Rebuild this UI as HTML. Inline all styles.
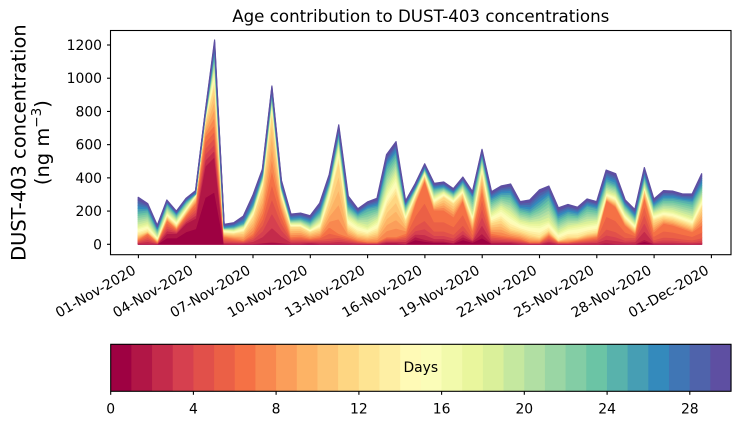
<!DOCTYPE html>
<html><head><meta charset="utf-8">
<style>
html,body{margin:0;padding:0;background:#fff;}
svg{display:block;}
text{font-family:"DejaVu Sans","Liberation Sans",sans-serif;fill:#000;}
</style></head>
<body>
<svg id="s" width="739" height="425" viewBox="0 0 739 425" xmlns="http://www.w3.org/2000/svg">
<rect x="0" y="0" width="739" height="425" fill="#fff"/>
<g id="stack"></g>
<g id="cbar"></g>
<rect x="110.5" y="30.5" width="620.5" height="224.2" fill="none" stroke="#000" stroke-width="1.1"/>
<rect x="110.7" y="344.3" width="620.3" height="47" fill="none" stroke="#000" stroke-width="1.1"/>
<g stroke="#000" stroke-width="1.1">
<line x1="107" y1="244.3" x2="110.5" y2="244.3"/>
<line x1="107" y1="211.08" x2="110.5" y2="211.08"/>
<line x1="107" y1="177.87" x2="110.5" y2="177.87"/>
<line x1="107" y1="144.65" x2="110.5" y2="144.65"/>
<line x1="107" y1="111.44" x2="110.5" y2="111.44"/>
<line x1="107" y1="78.22" x2="110.5" y2="78.22"/>
<line x1="107" y1="45.0" x2="110.5" y2="45.0"/>
<line x1="138.4" y1="254.7" x2="138.4" y2="258.2"/>
<line x1="195.7" y1="254.7" x2="195.7" y2="258.2"/>
<line x1="253.0" y1="254.7" x2="253.0" y2="258.2"/>
<line x1="310.3" y1="254.7" x2="310.3" y2="258.2"/>
<line x1="367.6" y1="254.7" x2="367.6" y2="258.2"/>
<line x1="424.9" y1="254.7" x2="424.9" y2="258.2"/>
<line x1="482.2" y1="254.7" x2="482.2" y2="258.2"/>
<line x1="539.5" y1="254.7" x2="539.5" y2="258.2"/>
<line x1="596.8" y1="254.7" x2="596.8" y2="258.2"/>
<line x1="654.1" y1="254.7" x2="654.1" y2="258.2"/>
<line x1="711.4" y1="254.7" x2="711.4" y2="258.2"/>
<line x1="110.7" y1="391.3" x2="110.7" y2="394.8"/>
<line x1="193.4" y1="391.3" x2="193.4" y2="394.8"/>
<line x1="276.1" y1="391.3" x2="276.1" y2="394.8"/>
<line x1="358.9" y1="391.3" x2="358.9" y2="394.8"/>
<line x1="441.6" y1="391.3" x2="441.6" y2="394.8"/>
<line x1="524.3" y1="391.3" x2="524.3" y2="394.8"/>
<line x1="607.1" y1="391.3" x2="607.1" y2="394.8"/>
<line x1="689.8" y1="391.3" x2="689.8" y2="394.8"/>
</g>
<g font-size="13.9" text-anchor="end">
<text x="102" y="249.3">0</text>
<text x="102" y="216.1">200</text>
<text x="102" y="182.9">400</text>
<text x="102" y="149.6">600</text>
<text x="102" y="116.4">800</text>
<text x="102" y="83.2">1000</text>
<text x="102" y="50.0">1200</text>
</g>
<g font-size="13.9" text-anchor="end">
<text transform="translate(136.8,273) rotate(-30)">01-Nov-2020</text>
<text transform="translate(194.1,273) rotate(-30)">04-Nov-2020</text>
<text transform="translate(251.4,273) rotate(-30)">07-Nov-2020</text>
<text transform="translate(308.7,273) rotate(-30)">10-Nov-2020</text>
<text transform="translate(366.0,273) rotate(-30)">13-Nov-2020</text>
<text transform="translate(423.3,273) rotate(-30)">16-Nov-2020</text>
<text transform="translate(480.6,273) rotate(-30)">19-Nov-2020</text>
<text transform="translate(537.9,273) rotate(-30)">22-Nov-2020</text>
<text transform="translate(595.2,273) rotate(-30)">25-Nov-2020</text>
<text transform="translate(652.5,273) rotate(-30)">28-Nov-2020</text>
<text transform="translate(709.8,273) rotate(-30)">01-Dec-2020</text>
</g>
<g font-size="13.9" text-anchor="middle">
<text x="110.7" y="413.3">0</text>
<text x="193.4" y="413.3">4</text>
<text x="276.1" y="413.3">8</text>
<text x="358.9" y="413.3">12</text>
<text x="441.6" y="413.3">16</text>
<text x="524.3" y="413.3">20</text>
<text x="607.1" y="413.3">24</text>
<text x="689.8" y="413.3">28</text>
<text x="420.8" y="372">Days</text>
</g>
<text x="420.8" y="22.2" font-size="16.67" text-anchor="middle">Age contribution to DUST-403 concentrations</text>
<text transform="translate(25.5,142.6) rotate(-90)" font-size="19.44" text-anchor="middle">DUST-403 concentration</text>
<text transform="translate(49,142.6) rotate(-90)" font-size="19.44" text-anchor="middle">(ng m<tspan font-size="13.6" dy="-8">−3</tspan><tspan dy="8">)</tspan></text>
</svg>
<script>
(function(){
var NS="http://www.w3.org/2000/svg";
var anchors=[[158,1,66],[213,62,79],[244,109,67],[253,174,97],[254,224,139],[255,255,191],[230,245,152],[171,221,164],[102,194,165],[50,136,189],[94,79,162]];
function spec(t){var p=t*10;var i=Math.floor(p);if(i>=10)i=9;var f=p-i;var a=anchors[i],b=anchors[i+1];var r=[];for(var k=0;k<3;k++)r.push(Math.round(a[k]+(b[k]-a[k])*f));return 'rgb('+r.join(',')+')';}
var cols=[];for(var i=0;i<30;i++)cols.push(spec(i/29));
var data=[
[5,30,60,110,200,283],[5,66,80,127,207,245],[3,15,30,50,90,115],[66,146,170,197,245,267],
[66,96,115,145,185,200],[126,176,200,225,262,277],[157,247,285,300,312,323],[470,650,740,762,775,790],
[528,720,970,1080,1170,1230],[3,46,70,90,102,120],[3,36,66,86,106,130],[5,26,76,106,127,170],
[5,66,167,207,237,295],[10,187,347,387,418,452],[15,452,809,869,920,953],[10,207,287,327,347,385],
[5,46,106,127,150,182],[5,50,106,127,155,188],[10,36,76,96,135,172],[5,46,96,137,195,248],
[5,106,267,335,375,420,1],[5,66,508,608,670,719],[5,46,106,167,230,290],[3,26,66,127,180,214],
[3,16,56,106,215,255],[3,16,76,146,227,277],[10,46,227,327,470,540],[10,46,307,428,548,618],
[5,66,146,187,235,262],[46,247,287,317,340,365,1],[30,388,418,440,460,485,1],[20,207,247,287,335,367,1],
[20,207,287,317,345,375,1],[10,167,247,277,310,335,1],[46,267,307,337,375,405,1],[20,86,146,187,287,318,1],
[66,330,438,490,540,572],[10,66,130,187,270,317],[10,56,147,227,300,351],[10,46,96,187,300,363],
[5,36,80,140,215,257],[3,16,60,127,200,267],[3,16,46,127,240,327],[10,56,86,146,290,351],
[3,16,26,76,160,220],[3,16,46,106,190,240],[3,26,46,117,180,223],[3,36,66,127,230,273],
[3,46,76,137,215,257],[10,267,287,317,385,447,1],[5,227,257,297,360,425,1],[5,116,150,187,235,267,1],
[3,66,96,127,170,210],[30,287,337,357,415,462],[5,76,146,187,235,273,1],[5,127,167,207,275,323,1],
[5,116,157,200,275,320,1],[3,96,137,180,265,303,1],[3,76,116,160,255,303,1],[3,116,227,280,355,425,1]
];
var X0=138.2,DX=9.55,Y0=244.3,SY=0.16608;
var cum=data.map(function(d){
  var D=d[0],R=d[1],O=d[2],Y=d[3],G=d[4],T=d[5],bias=d[6]||0;
  if(T-G<20)G=T-20;
  if(Y>G)Y=G; if(O>Y)O=Y; if(R>O)R=O; if(D>R)D=R;
  var c=[0,D*0.6,D];
  function seg(a,b,n){for(var j=1;j<=n;j++)c.push(a+(b-a)*j/n);}
  function segw(a,b,w){var s=0;for(var j=0;j<w.length;j++){s+=w[j];c.push(a+(b-a)*s);}}
  if(bias)segw(D,R,[0.08,0.1,0.14,0.3,0.38]);else seg(D,R,5);
  seg(R,O,5);seg(O,Y,6);seg(Y,G,7);seg(G,T,5);
  return c;
});
var g=document.getElementById('stack');
for(var k=0;k<30;k++){
  var pts=[];
  for(var i=0;i<cum.length;i++)pts.push((X0+i*DX).toFixed(2)+','+(Y0-cum[i][k+1]*SY).toFixed(2));
  for(var i=cum.length-1;i>=0;i--)pts.push((X0+i*DX).toFixed(2)+','+(Y0-cum[i][k]*SY).toFixed(2));
  var p=document.createElementNS(NS,'polygon');
  p.setAttribute('points',pts.join(' '));
  p.setAttribute('fill',cols[k]);
  p.setAttribute('stroke',cols[k]);
  p.setAttribute('stroke-width','1.2');
  p.setAttribute('stroke-linejoin','round');
  g.appendChild(p);
}
var cb=document.getElementById('cbar');
var L=110.7,W=620.3/30;
for(var k=0;k<30;k++){
  var r=document.createElementNS(NS,'rect');
  r.setAttribute('x',(L+k*W).toFixed(2));
  r.setAttribute('y','344.3');
  r.setAttribute('width',(W+0.6).toFixed(2));
  r.setAttribute('height','47');
  r.setAttribute('fill',cols[k]);
  cb.appendChild(r);
}
})();
</script>
</body></html>
